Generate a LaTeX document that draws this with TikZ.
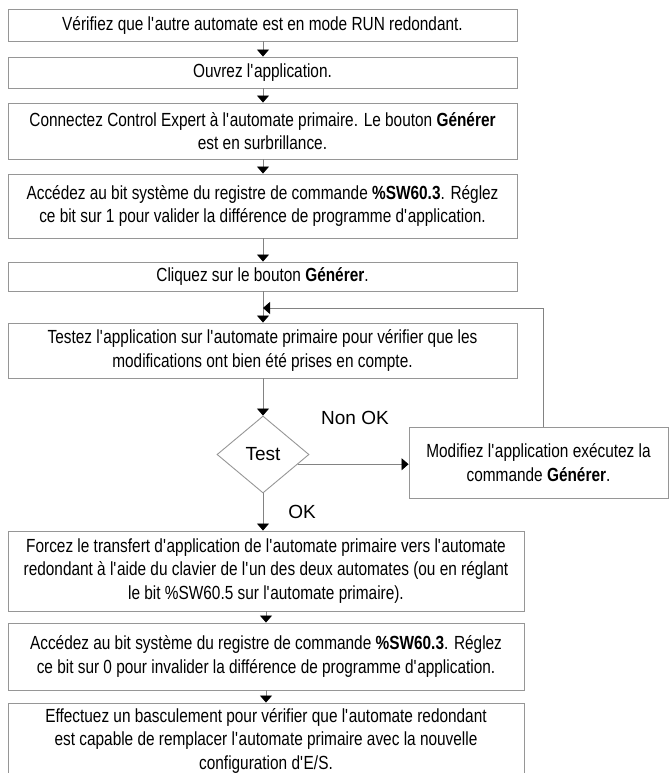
\documentclass[tikz,border=0pt]{standalone}
\usepackage{fontspec}
\setmainfont[FakeStretch=0.81]{Liberation Sans}
\newfontfamily\labfont{Liberation Sans}
\usetikzlibrary{shapes.geometric,arrows.meta,calc}
\definecolor{boxgray}{RGB}{150,150,150}
\definecolor{linegray}{RGB}{130,130,130}
\newcommand{\ap}{\textquotesingle}
\begin{document}
\begin{tikzpicture}[x=1pt,y=-1pt,
  txt/.style={font=\fontsize{19}{23.5}\selectfont, align=center, text=black},
  lab/.style={font=\labfont\fontsize{19}{23.5}\selectfont, align=center, text=black},
  stepbox/.style={txt, draw=boxgray, line width=0.9pt, inner sep=0pt},
  decide/.style={lab, draw=boxgray, line width=0.9pt, diamond, inner sep=0pt},
  arr/.style={draw=linegray, line width=0.8pt, -{Triangle[width=12pt,length=7pt,color=black]}}]
\useasboundingbox (0,0) rectangle (670,773);
\clip (0,0) rectangle (670,773);
\coordinate (m) at (263,0);
\coordinate (mb) at (266,0);
\coordinate (fb) at (543,0);
\coordinate (j) at (263,308);

\node[stepbox, minimum width=509pt, minimum height=32pt] (b1) at (262.5,25)
  {Vérifiez que l\ap autre automate est en mode RUN redondant.};
\node[stepbox, minimum width=509pt, minimum height=31pt] (b2) at (262.5,72.5)
  {Ouvrez l\ap application.};
\node[stepbox, minimum width=509pt, minimum height=56pt] (b3) at (262.5,131)
  {Connectez Control Expert à l\ap automate primaire. Le bouton \textbf{Générer}\\est en surbrillance.};
\node[stepbox, minimum width=509pt, minimum height=64pt] (b4) at (262.5,206)
  {Accédez au bit système du registre de commande \textbf{\%SW60.3}. Réglez\\ce bit sur 1 pour valider la différence de programme d\ap application.};
\node[stepbox, minimum width=509pt, minimum height=29pt] (b5) at (262.5,276.5)
  {Cliquez sur le bouton \textbf{Générer}.};
\node[stepbox, minimum width=509pt, minimum height=55pt] (b6) at (262.5,350.5)
  {Testez l\ap application sur l\ap automate primaire pour vérifier que les\\modifications ont bien été prises en compte.};
\node[decide, minimum width=92pt, minimum height=77pt] (d) at (263,454.5) {Test};
\node[stepbox, minimum width=259pt, minimum height=71pt] (mod) at (538.5,462.5)
  {Modifiez l\ap application exécutez la\\commande \textbf{Générer}.};
\node[stepbox, minimum width=516pt, minimum height=80pt] (b7) at (266,571)
  {Forcez le transfert d\ap application de l\ap automate primaire vers l\ap automate\\redondant à l\ap aide du clavier de l\ap un des deux automates (ou en réglant\\le bit \%SW60.5 sur l\ap automate primaire).};
\node[stepbox, minimum width=516pt, minimum height=67pt] (b8) at (266,656.5)
  {Accédez au bit système du registre de commande \textbf{\%SW60.3}. Réglez\\ce bit sur 0 pour invalider la différence de programme d\ap application.};
\node[stepbox, minimum width=516pt, minimum height=75pt] (b9) at (266,740.5)
  {Effectuez un basculement pour vérifier que l\ap automate redondant\\est capable de remplacer l\ap automate primaire avec la nouvelle\\configuration d\ap E/S.};

\node[lab] (nok) at (355,418) {Non OK};
\node[lab] (ok) at (302,512) {OK};

\draw[arr] (b1.south -| m) -- (b2.north -| m);
\draw[arr] (b2.south -| m) -- (b3.north -| m);
\draw[arr] (b3.south -| m) -- (b4.north -| m);
\draw[arr] (b4.south -| m) -- (b5.north -| m);
\draw[arr] (b5.south -| m) -- (b6.north -| m);
\draw[arr] (mod.north -| fb) |- (j);
\draw[arr] (b6.south -| m) -- (d.north);
\draw[arr] ($(d.east)!0.25!(d.south)$) -- (mod.west |- {$(d.east)!0.25!(d.south)$});
\draw[arr] (d.south) -- (b7.north -| d.south);
\draw[arr] (b7.south -| mb) -- (b8.north -| mb);
\draw[arr] (b8.south -| mb) -- (b9.north -| mb);
\end{tikzpicture}
\end{document}
